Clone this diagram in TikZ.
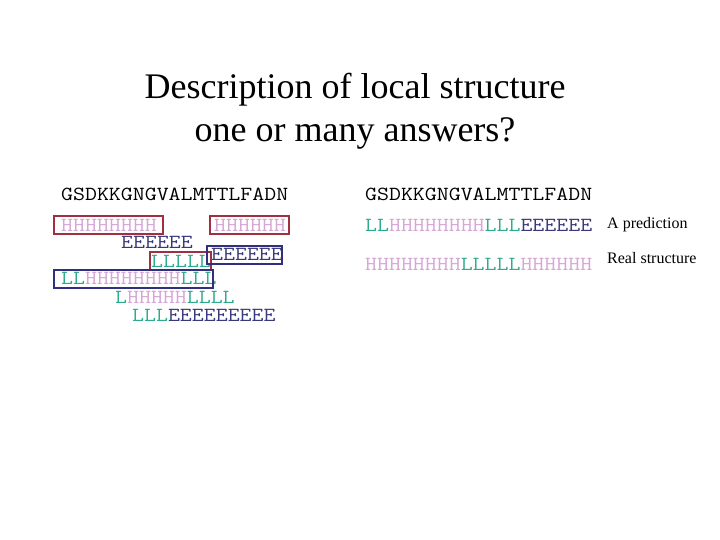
\documentclass[tikz,border=0pt]{standalone}
\usepackage{fontspec}
\setmainfont{Liberation Serif}
\definecolor{hcol}{HTML}{D6A6D6}
\definecolor{lcol}{HTML}{2EAA8C}
\definecolor{ecol}{HTML}{38387A}
\definecolor{redbox}{HTML}{A03040}
\definecolor{bluebox}{HTML}{30307E}
\newcommand{\hH}[1]{\textcolor{hcol}{#1}}
\newcommand{\lL}[1]{\textcolor{lcol}{#1}}
\newcommand{\eE}[1]{\textcolor{ecol}{#1}}
\newcommand{\sq}[1]{\scalebox{1.16}[1]{#1}}
\begin{document}
\begin{tikzpicture}[x=1pt,y=-1pt,
  seq/.style={anchor=base west,inner sep=0pt,font=\ttfamily\fontsize{20}{24}\selectfont},
  titletext/.style={anchor=base,inner sep=0pt,font=\fontsize{36}{40}\selectfont},
  labeltext/.style={anchor=base west,inner sep=0pt,font=\fontsize{16}{19}\selectfont},
  rbox/.style={draw=redbox,line width=1.2pt},
  bbox/.style={draw=bluebox,line width=1.2pt}]
\useasboundingbox[fill=white] (0,0) rectangle (720,540);
% title
\node[titletext] (t1) at (355,98.5) {Description of local structure};
\node[titletext] (t2) at (355,141.7) {one or many answers?};
% left column
\node[seq] (lhead) at (61,201) {\sq{GSDKKGNGVALMTTLFADN}};
\node[seq] (r1a) at (61,232) {\sq{\hH{HHHHHHHH}}};
\node[seq] (r1b) at (214,232) {\sq{\hH{HHHHHH}}};
\node[seq] (r2) at (121,248) {\sq{\eE{EEEEEE}}};
\node[seq] (r3a) at (151,267) {\sq{\lL{LLLLL}}};
\node[seq] (r3b) at (211,260) {\sq{\eE{EEEEEE}}};
\node[seq] (r4) at (61,284) {\sq{\lL{LL}\hH{HHHHHHHH}\lL{LLL}}};
\node[seq] (r5) at (115,303) {\sq{\lL{L}\hH{HHHHH}\lL{LLLL}}};
\node[seq] (r6) at (132,321) {\sq{\lL{LLL}\eE{EEEEEEEEE}}};
% boxes
\draw[rbox] (54,216) rectangle (163,234);
\draw[rbox] (210,216) rectangle (289,234);
\draw[rbox] (150,252) rectangle (211,270);
\draw[bbox] (207,246) rectangle (282,264);
\draw[bbox] (54,270) rectangle (213,288);
% right column
\node[seq] (rhead) at (365,201) {\sq{GSDKKGNGVALMTTLFADN}};
\node[seq] (pred) at (365,231) {\sq{\lL{LL}\hH{HHHHHHHH}\lL{LLL}\eE{EEEEEE}}};
\node[seq] (real) at (365,270) {\sq{\hH{HHHHHHHH}\lL{LLLLL}\hH{HHHHHH}}};
\node[labeltext] (lpred) at (607,228.7) {A prediction};
\node[labeltext] (lreal) at (607,263.7) {Real structure};
\end{tikzpicture}
\end{document}
